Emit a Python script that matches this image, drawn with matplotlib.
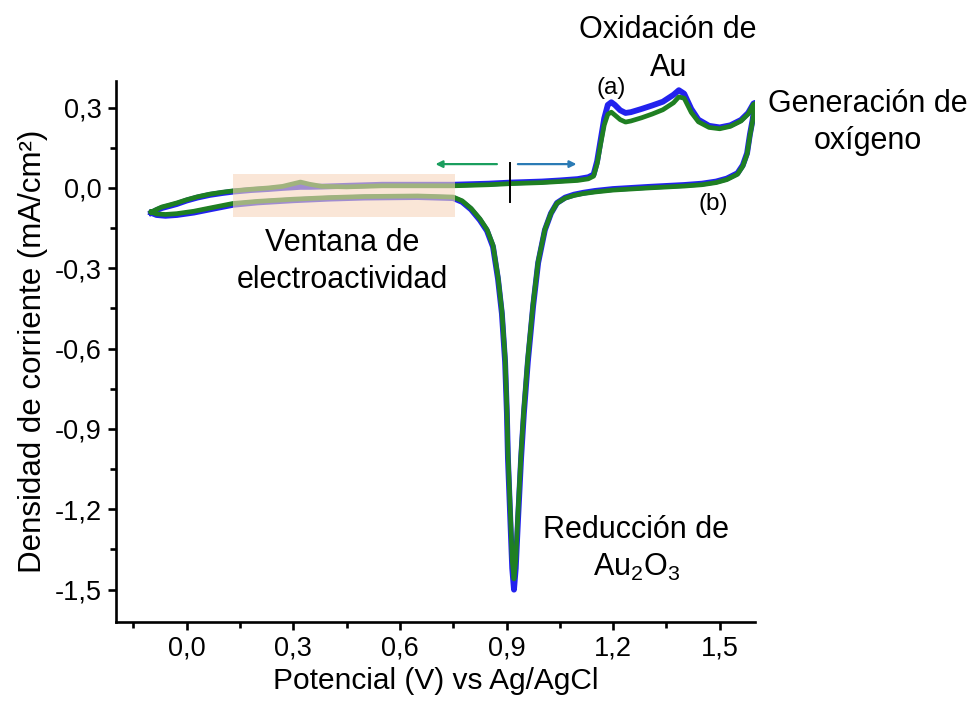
import numpy as np
import matplotlib
matplotlib.use("Agg")
import matplotlib.pyplot as plt
from matplotlib.patches import Rectangle
from matplotlib.ticker import MultipleLocator, FuncFormatter

plt.rcParams['font.family'] = ['Liberation Sans', 'DejaVu Sans']
plt.rcParams['mathtext.fontset'] = 'custom'
plt.rcParams['mathtext.rm'] = 'Liberation Sans'
plt.rcParams['mathtext.default'] = 'regular'

# voltammogram, one full cycle: anodic sweep from -0.1 V up to 1.6 V, then back
pot_up = [-0.100, -0.085, -0.070, -0.050, -0.028, 0.000, 0.030, 0.065, 0.100, 0.130,
          0.180, 0.230, 0.270, 0.295, 0.320, 0.345, 0.380, 0.450, 0.550, 0.650,
          0.750, 0.850, 0.910, 1.000, 1.050, 1.100, 1.130, 1.145, 1.155, 1.165,
          1.175, 1.185, 1.195, 1.205, 1.220, 1.235, 1.250, 1.280, 1.310, 1.340,
          1.370, 1.385, 1.400, 1.420, 1.440, 1.470, 1.500, 1.530, 1.560, 1.580, 1.595]
cur_up_a = [-0.093, -0.083, -0.075, -0.068, -0.060, -0.047, -0.036, -0.026, -0.019, -0.014,
            -0.008, -0.004, 0.000, 0.002, 0.004, 0.004, 0.005, 0.008, 0.012, 0.012,
            0.012, 0.016, 0.020, 0.024, 0.028, 0.033, 0.040, 0.050, 0.100, 0.180,
            0.260, 0.310, 0.320, 0.310, 0.290, 0.280, 0.283, 0.295, 0.308, 0.322,
            0.348, 0.365, 0.352, 0.295, 0.255, 0.232, 0.226, 0.234, 0.254, 0.280, 0.315]
cur_up_b = [-0.090, -0.080, -0.071, -0.064, -0.056, -0.044, -0.033, -0.023, -0.016, -0.011,
            -0.005, 0.000, 0.006, 0.014, 0.022, 0.014, 0.006, 0.004, 0.008, 0.008,
            0.008, 0.012, 0.016, 0.020, 0.024, 0.028, 0.034, 0.044, 0.090, 0.165,
            0.235, 0.275, 0.283, 0.272, 0.255, 0.246, 0.250, 0.262, 0.276, 0.292,
            0.318, 0.340, 0.335, 0.282, 0.247, 0.226, 0.221, 0.230, 0.250, 0.276, 0.312]

pot_down = [1.600, 1.592, 1.585, 1.577, 1.565, 1.550, 1.520, 1.490, 1.450, 1.400,
            1.300, 1.200, 1.150, 1.116, 1.090, 1.065, 1.042, 1.025, 1.008, 0.989,
            0.975, 0.960, 0.949, 0.941, 0.932, 0.926, 0.921, 0.916, 0.911, 0.904,
            0.901, 0.896, 0.887, 0.876, 0.862, 0.845, 0.825, 0.800, 0.775, 0.750,
            0.650, 0.500, 0.400, 0.300, 0.200, 0.130, 0.065, 0.020, -0.028, -0.060,
            -0.085, -0.100]
cur_down_a = [0.318, 0.250, 0.200, 0.130, 0.085, 0.055, 0.035, 0.024, 0.016, 0.011,
              0.004, -0.004, -0.011, -0.018, -0.025, -0.036, -0.056, -0.095, -0.157, -0.280,
              -0.440, -0.650, -0.840, -1.010, -1.250, -1.420, -1.500, -1.420, -1.250, -1.010,
              -0.840, -0.650, -0.470, -0.340, -0.220, -0.160, -0.120, -0.080, -0.052, -0.038,
              -0.034, -0.036, -0.040, -0.046, -0.054, -0.063, -0.080, -0.092, -0.101, -0.104,
              -0.101, -0.093]
cur_down_b = [0.315, 0.245, 0.195, 0.126, 0.081, 0.051, 0.031, 0.020, 0.012, 0.007,
              0.000, -0.008, -0.015, -0.021, -0.028, -0.038, -0.057, -0.095, -0.155, -0.275,
              -0.430, -0.635, -0.825, -0.990, -1.220, -1.390, -1.460, -1.390, -1.220, -0.990,
              -0.825, -0.635, -0.460, -0.332, -0.214, -0.155, -0.115, -0.076, -0.048, -0.034,
              -0.030, -0.032, -0.036, -0.042, -0.050, -0.058, -0.075, -0.087, -0.096, -0.099,
              -0.097, -0.090]

x_ticks = [0.0, 0.3, 0.6, 0.9, 1.2, 1.5]
y_ticks = [0.3, 0.0, -0.3, -0.6, -0.9, -1.2, -1.5]

pot = pot_up + pot_down
cur_a = cur_up_a + cur_down_a
cur_b = cur_up_b + cur_down_b

fig = plt.figure(figsize=(9.72, 7.09), dpi=100)
ax = fig.add_axes([0.119, 0.123, 0.658, 0.763])

ax.plot(pot, cur_a, color='#2222ee', lw=4.2, solid_joinstyle='round', zorder=2)
ax.plot(pot, cur_b, color='#1f7f22', lw=3.4, solid_joinstyle='round', zorder=3)

# double layer region
ax.add_patch(Rectangle((0.13, -0.108), 0.625, 0.16, facecolor='#f7d6bd',
                       edgecolor='none', alpha=0.6, zorder=4))

# sweep start and directions
ax.plot([0.91, 0.91], [-0.052, 0.093], color='black', lw=1.4, zorder=5)
ax.annotate('', xy=(0.700, 0.089), xytext=(0.873, 0.089),
            arrowprops=dict(arrowstyle='-|>', color='#1a9e5e', lw=1.6,
                            mutation_scale=10, shrinkA=0, shrinkB=0))
ax.annotate('', xy=(1.097, 0.089), xytext=(0.932, 0.089),
            arrowprops=dict(arrowstyle='-|>', color='#2b7bb5', lw=1.6,
                            mutation_scale=10, shrinkA=0, shrinkB=0))

fs = 22
ax.text(1.355, 0.589, 'Oxidación de', ha='center', va='center', fontsize=fs)
ax.text(1.355, 0.447, 'Au', ha='center', va='center', fontsize=fs)
ax.text(1.918, 0.246, 'Generación de\noxígeno', ha='center', va='center', fontsize=fs,
        linespacing=1.3)
ax.text(1.195, 0.373, '(a)', ha='center', va='center', fontsize=17.5)
ax.text(1.482, -0.060, '(b)', ha='center', va='center', fontsize=17.5)
ax.text(0.437, -0.276, 'Ventana de\nelectroactividad', ha='center', va='center',
        fontsize=fs, linespacing=1.3)
ax.text(1.265, -1.349, 'Reducción de\nAu$_2$O$_3$', ha='center', va='center',
        fontsize=fs, linespacing=1.3)

ax.set_xlim(-0.2, 1.6)
ax.set_ylim(-1.62, 0.40)
ax.set_xticks(x_ticks)
ax.set_yticks(y_ticks)
ax.xaxis.set_minor_locator(MultipleLocator(0.15))
ax.yaxis.set_minor_locator(MultipleLocator(0.15))
comma = FuncFormatter(lambda v, p: f'{v:.1f}'.replace('.', ','))
ax.xaxis.set_major_formatter(comma)
ax.yaxis.set_major_formatter(comma)

for s in ['top', 'right']:
    ax.spines[s].set_visible(False)
for s in ['left', 'bottom']:
    ax.spines[s].set_linewidth(1.9)
ax.tick_params(which='major', direction='out', length=6, width=1.9, labelsize=19.5, pad=4)
ax.tick_params(which='minor', direction='out', length=4, width=1.9)

ax.set_xlabel('Potencial (V) vs Ag/AgCl', fontsize=21.5, labelpad=4)
ax.set_ylabel('Densidad de corriente (mA/cm²)', fontsize=22.5, labelpad=5)

fig.savefig('out.png', dpi=100)
